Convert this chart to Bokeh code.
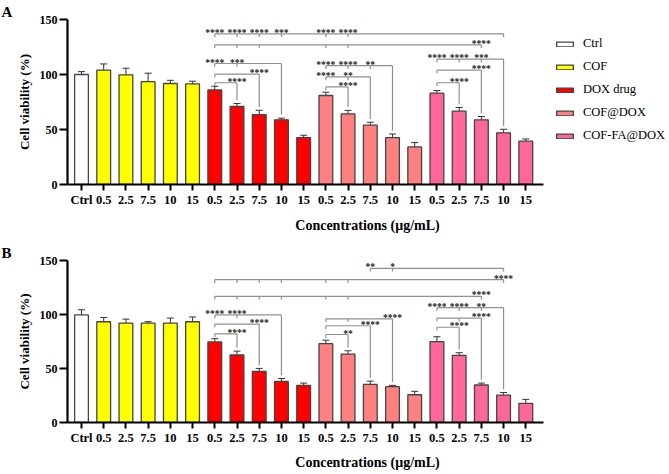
from bokeh.plotting import figure
from bokeh.models import (ColumnDataSource, FixedTicker, Whisker, TeeHead, Legend,
                          LegendItem, Range1d)
from bokeh.layouts import column
from bokeh.embed import file_html
from bokeh.resources import INLINE
from bokeh.core.properties import value

# ---------------- data ----------------
conc_labels = ["Ctrl",
               "0.5", "2.5", "7.5", "10", "15",
               "0.5", "2.5", "7.5", "10", "15",
               "0.5", "2.5", "7.5", "10", "15",
               "0.5", "2.5", "7.5", "10", "15"]
group_names = ["Ctrl", "COF", "DOX drug", "COF@DOX", "COF-FA@DOX"]
group_sizes = [1, 5, 5, 5, 5]
group_colors = ["#FFFFFF", "#FFFF00", "#FF0000", "#FF8080", "#FF6699"]

a_vals = [100, 104, 99.7, 93.6, 91.8, 91.4,
          86, 70.9, 63.6, 58.8, 42.7,
          80.9, 64.2, 53.9, 42.7, 34.2,
          83, 66.7, 58.8, 47, 39.4]
a_errs = [2.6, 5.6, 6, 7.6, 2.9, 2.5,
          3.3, 2.7, 3.9, 1.5, 2.1,
          3, 3.2, 2.7, 3.2, 3.9,
          2.4, 3.3, 3, 3.2, 2]

b_vals = [99.6, 93.3, 92.1, 92, 92, 93.3,
          74.6, 62.5, 47.4, 38, 34.4,
          73, 63.4, 35.3, 33.2, 25.7,
          74.9, 62.2, 34.7, 25.4, 17.8]
b_errs = [4.8, 3.9, 3.6, 1.4, 4.7, 4.4,
          3, 3.6, 2.7, 2.7, 2.1,
          3.2, 3, 3, 1.2, 3.2,
          4.5, 2.4, 1.8, 2.4, 3.6]

# significance brackets: (left bar, right bar, level, tick bars, [(bar, label)], drop to right bar)
a_brackets = [
    (6, 19, 137, [7, 8, 9, 11, 12], [(6, "****"), (7, "****"), (8, "****"), (9, "***"), (11, "****"), (12, "****")], False),
    (6, 18, 127, [7, 8, 11, 12], [(18, "****")], False),
    (6, 9, 110, [7], [(6, "****"), (7, "***")], True),
    (6, 8, 100.3, [], [(8, "****")], True),
    (6, 7, 92.5, [], [(7, "****")], True),
    (11, 14, 108, [12, 13], [(11, "****"), (12, "****"), (13, "**")], True),
    (11, 13, 97.8, [12], [(11, "****"), (12, "**")], True),
    (11, 12, 88.7, [], [(12, "****")], True),
    (16, 19, 114, [17, 18], [(16, "****"), (17, "****"), (18, "***")], True),
    (16, 18, 103.9, [], [(18, "****")], True),
    (16, 17, 92.5, [], [(17, "****")], True),
]
b_brackets = [
    (13, 19, 142.8, [14], [(13, "**"), (14, "*")], False),
    (6, 19, 132.2, [7, 8, 9, 11, 12], [(19, "****")], False),
    (6, 18, 116.8, [7, 8, 9, 11, 12], [(18, "****")], False),
    (6, 9, 99.6, [7], [(6, "****"), (7, "****")], True),
    (6, 8, 91.1, [], [(8, "****")], True),
    (6, 7, 82.1, [], [(7, "****")], True),
    (11, 14, 96, [12], [(14, "****")], True),
    (11, 13, 89.6, [], [(13, "****")], True),
    (11, 12, 81.5, [], [(12, "**")], True),
    (16, 19, 106.3, [17, 18], [(16, "****"), (17, "****"), (18, "**")], True),
    (16, 18, 96.6, [17], [(18, "****")], True),
    (16, 17, 88.2, [], [(17, "****")], True),
]

SERIF = "Liberation Serif"
PX_PER_UNIT = 22.215          # horizontal scale of one bar slot
X_START, X_AXIS_END = -0.63, 20.797
FIG_W, LEFT_B, RIGHT_B = 669, 67, 2


def make_panel(vals, errs, brackets, letter, height, border_top, border_bottom,
               with_legend, xlabel_standoff):
    xs = list(range(len(conc_labels)))
    groups, colors = [], []
    for g, n, c in zip(group_names, group_sizes, group_colors):
        groups += [g] * n
        colors += [c] * n
    src = ColumnDataSource(dict(
        x=xs, top=vals, color=colors, group=groups,
        lower=[v - e for v, e in zip(vals, errs)],
        upper=[v + e for v, e in zip(vals, errs)]))

    frame_w = FIG_W - LEFT_B - RIGHT_B
    x_end = X_START + frame_w / PX_PER_UNIT
    p = figure(width=FIG_W, height=height, output_backend="svg", toolbar_location=None,
               x_range=Range1d(X_START, x_end), y_range=Range1d(0, 150),
               min_border_left=LEFT_B, min_border_right=RIGHT_B,
               min_border_top=border_top, min_border_bottom=border_bottom,
               title=letter)
    p.outline_line_color = None
    p.grid.grid_line_color = None
    p.background_fill_color = "white"
    p.border_fill_color = "white"

    p.title.align = "left"
    p.title.offset = -66
    p.title.standoff = 0
    p.title.text_font = SERIF
    p.title.text_font_style = "bold"
    p.title.text_font_size = "15px"
    p.title.text_color = "black"

    bars = p.vbar(x="x", top="top", width=0.62, source=src, fill_color="color",
                  line_color="#444444", line_width=1.3)

    p.add_layout(Whisker(base="x", upper="upper", lower="lower", source=src,
                         line_color="#333333", line_width=1,
                         upper_head=TeeHead(size=7, line_color="#333333", line_width=1),
                         lower_head=TeeHead(size=7, line_color="#333333", line_width=1)))

    # brackets
    x0, y0, x1, y1 = [], [], [], []
    tx, ty, tt = [], [], []
    tick = 3
    gap = 3
    for left, right, lvl, ticks, labs, drop in brackets:
        x0.append(left); y0.append(lvl); x1.append(right); y1.append(lvl)
        x0.append(left); y0.append(lvl); x1.append(left); y1.append(lvl - tick)
        for t in ticks:
            x0.append(t); y0.append(lvl); x1.append(t); y1.append(lvl - tick)
        bottom = (vals[right] + errs[right] + gap) if drop else (lvl - tick)
        x0.append(right); y0.append(lvl); x1.append(right); y1.append(bottom)
        for bx, s in labs:
            tx.append(bx); ty.append(lvl + 0.8); tt.append(s)
    p.segment(x0=x0, y0=y0, x1=x1, y1=y1, line_color="#8f8f8f", line_width=1.2)
    p.text(x=tx, y=ty, text=tt, text_font=value(SERIF), text_font_size="9.5px",
           text_font_style="bold", text_align="center", text_baseline="alphabetic",
           text_color="#222222")

    # axes
    for ax in (p.xaxis, p.yaxis):
        ax.axis_line_width = 2.2
        ax.axis_line_color = "black"
        ax.major_tick_line_width = 2
        ax.major_tick_line_color = "black"
        ax.major_tick_in = 0
        ax.minor_tick_line_color = None
        ax.major_label_text_font = SERIF
        ax.major_label_text_font_style = "bold"
        ax.major_label_text_color = "black"
        ax.axis_label_text_font = SERIF
        ax.axis_label_text_font_style = "bold"
        ax.axis_label_text_color = "black"

    p.xaxis.bounds = (X_START, X_AXIS_END)
    p.xaxis.ticker = FixedTicker(ticks=xs)
    p.xaxis.major_label_overrides = {i: s for i, s in enumerate(conc_labels)}
    p.xaxis.major_tick_out = 6
    p.xaxis.major_label_standoff = 2
    p.xaxis.major_label_text_font_size = "12.5px"
    p.xaxis.axis_label = "Concentrations (μg/mL)"
    p.xaxis.axis_label_text_font_size = "14px"
    p.xaxis.axis_label_standoff = xlabel_standoff

    p.yaxis.ticker = FixedTicker(ticks=[0, 50, 100, 150])
    p.yaxis.major_tick_out = 8
    p.yaxis.major_label_standoff = 2
    p.yaxis.major_label_text_font_size = "12px"
    p.yaxis.axis_label = "Cell viability (%)"
    p.yaxis.axis_label_text_font_size = "13px"
    p.yaxis.axis_label_standoff = 5

    if with_legend:
        items = []
        start = 0
        for g, n in zip(group_names, group_sizes):
            items.append(LegendItem(label=g, renderers=[bars], index=start))
            start += n
        leg = Legend(items=items, location=(487, 41), orientation="vertical",
                     glyph_width=21, glyph_height=6, label_height=6,
                     label_standoff=8, spacing=8, padding=0, margin=0,
                     border_line_color=None, background_fill_alpha=0,
                     label_text_font=SERIF, label_text_font_size="12.5px",
                     label_text_color="black")
        p.add_layout(leg)
    return p


pA = make_panel(a_vals, a_errs, a_brackets, "A", 238, 19, 54, True, 8)
pB = make_panel(b_vals, b_errs, b_brackets, "B", 234, 22, 47, False, 7)

layout = column(pA, pB)
open("out.html", "w").write(file_html(layout, INLINE))
